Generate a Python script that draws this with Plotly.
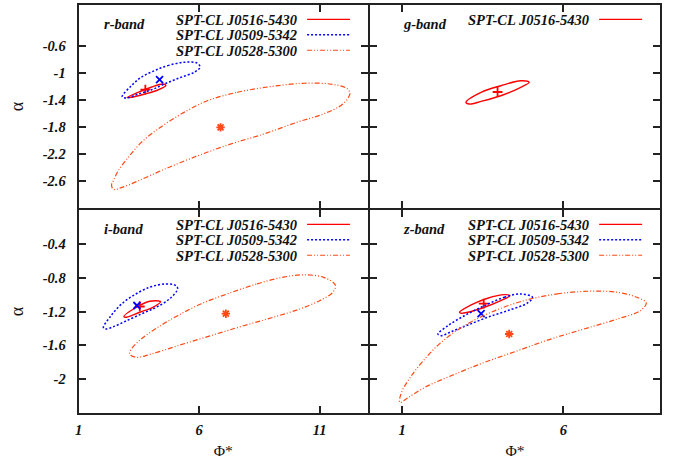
import plotly.graph_objects as go

# ---------------- data ----------------
clusters = ["SPT-CL J0516-5430", "SPT-CL J0509-5342", "SPT-CL J0528-5300"]
bands = ["r-band", "g-band", "i-band", "z-band"]

# r-band contours (Phi*, alpha)
r_J0516_phi = [4.01, 4.49, 4.62, 4.29, 3.74, 3.19, 3.01, 3.47]
r_J0516_alpha = [-1.216, -1.167, -1.190, -1.256, -1.316, -1.364, -1.367, -1.290]
r_J0516_best = [3.77, -1.252]

r_J0509_phi = [4.15, 4.70, 5.39, 5.93, 6.04, 5.80, 5.25, 4.63, 4.01, 3.47, 2.99, 2.81, 3.19, 3.60]
r_J0509_alpha = [-0.970, -0.896, -0.846, -0.861, -0.920, -0.994, -1.068, -1.157, -1.256, -1.316, -1.375, -1.356, -1.193, -1.068]
r_J0509_best = [4.36, -1.104]

r_J0528_phi = [6.34, 7.58, 8.94, 10.32, 11.41, 12.10, 12.26, 11.96, 11.14, 10.04, 8.67, 7.30, 5.93,
               4.56, 3.47, 2.78, 2.44, 2.37, 2.44, 2.64, 3.06, 3.60, 4.29, 5.25]
r_J0528_alpha = [-1.415, -1.290, -1.207, -1.157, -1.167, -1.227, -1.305, -1.464, -1.612, -1.735, -1.908, -2.056, -2.230,
                 -2.427, -2.600, -2.698, -2.723, -2.649, -2.600, -2.452, -2.253, -2.031, -1.834, -1.612]
r_J0528_best = [6.89, -1.809]

# g-band contour
g_J0516_phi = [4.06, 4.68, 4.94, 4.68, 4.06, 3.45, 3.09, 2.98, 3.45]
g_J0516_alpha = [-1.193, -1.119, -1.142, -1.216, -1.341, -1.424, -1.464, -1.439, -1.290]
g_J0516_best = [3.96, -1.286]

# i-band contours
i_J0516_phi = [3.95, 4.40, 4.08, 3.54, 2.99, 2.88, 3.40]
i_J0516_alpha = [-1.079, -1.084, -1.150, -1.209, -1.268, -1.261, -1.150]
i_J0516_best = [3.54, -1.141]

i_J0509_phi = [3.95, 4.63, 5.04, 5.11, 4.77, 4.22, 3.67, 2.99, 2.44, 2.10, 2.03, 2.30, 2.71, 3.26]
i_J0509_alpha = [-0.913, -0.874, -0.894, -0.933, -1.052, -1.150, -1.221, -1.309, -1.380, -1.407, -1.387, -1.268, -1.131, -1.013]
i_J0509_best = [3.42, -1.129]

i_J0528_phi = [7.17, 8.40, 9.50, 10.32, 11.14, 11.65, 11.55, 11.00, 10.18, 9.08, 7.85, 6.48, 5.11,
               4.01, 3.40, 3.12, 3.19, 3.60, 4.29, 5.11, 6.07]
i_J0528_alpha = [-0.992, -0.874, -0.794, -0.767, -0.794, -0.886, -0.972, -1.072, -1.170, -1.268, -1.368, -1.486, -1.605,
                 -1.703, -1.742, -1.703, -1.644, -1.526, -1.387, -1.250, -1.111]
i_J0528_best = [7.11, -1.226]

# z-band contours
z_J0516_phi = [3.65, 4.17, 4.34, 4.06, 3.55, 3.04, 2.83, 2.78, 3.14]
z_J0516_alpha = [-1.043, -1.001, -1.013, -1.072, -1.150, -1.209, -1.221, -1.209, -1.123]
z_J0516_best = [3.53, -1.107]

z_J0509_phi = [3.55, 4.17, 4.68, 5.04, 4.89, 4.27, 3.65, 3.04, 2.52, 2.21, 2.11, 2.42, 2.93]
z_J0509_alpha = [-1.131, -1.032, -0.992, -1.032, -1.099, -1.190, -1.268, -1.360, -1.439, -1.486, -1.466, -1.368, -1.250]
z_J0509_best = [3.45, -1.226]

z_J0528_phi = [4.78, 5.81, 6.84, 7.67, 8.28, 8.57, 8.39, 7.67, 6.64, 5.61, 4.58, 3.55, 2.52, 1.70,
               1.19, 0.93, 0.98, 1.29, 1.70, 2.21, 2.93, 3.76]
z_J0528_alpha = [-1.072, -0.992, -0.960, -0.972, -1.032, -1.099, -1.190, -1.289, -1.407, -1.526, -1.664, -1.802, -1.960, -2.098,
                 -2.217, -2.276, -2.157, -1.960, -1.763, -1.565, -1.368, -1.209]
z_J0528_best = [4.32, -1.466]

# axis ticks
x_ticks_left = [1, 6, 11]
x_ticks_right = [1, 6]
y_ticks_top = [-0.6, -1.0, -1.4, -1.8, -2.2, -2.6]
y_ticks_bottom = [-0.4, -0.8, -1.2, -1.6, -2.0]
y_ticklabels_top = ["-0.6", "-1", "-1.4", "-1.8", "-2.2", "-2.6"]
y_ticklabels_bottom = ["-0.4", "-0.8", "-1.2", "-1.6", "-2"]

# ---------------- styles ----------------
RED = "#ff0000"
BLUE = "#0000ff"
ORANGE = "#ff4a14"
FONT = "Liberation Serif"
TXT = "#111111"

styles = [
    dict(color=RED, width=1.4, dash="solid", symbol="cross-thin", msize=7),
    dict(color=BLUE, width=1.5, dash="2px,2px", symbol="x-thin", msize=7),
    dict(color=ORANGE, width=1.2, dash="5px,2px,1px,2px,1px,2px", symbol="asterisk", msize=7),
]

fig = go.Figure()


def close(a):
    return list(a) + [a[0]]


def add_contour(phi, alpha, best, k, xa, ya):
    s = styles[k]
    fig.add_trace(go.Scatter(
        x=close(phi), y=close(alpha), mode="lines", xaxis=xa, yaxis=ya,
        line=dict(color=s["color"], width=s["width"], dash=s["dash"], shape="spline", smoothing=1.0),
        showlegend=False, hoverinfo="skip"))
    fig.add_trace(go.Scatter(
        x=[best[0]], y=[best[1]], mode="markers", xaxis=xa, yaxis=ya,
        marker=dict(symbol=s["symbol"], size=s["msize"], color=s["color"],
                    line=dict(color=s["color"], width=1.8)),
        showlegend=False, hoverinfo="skip"))


add_contour(r_J0516_phi, r_J0516_alpha, r_J0516_best, 0, "x", "y")
add_contour(r_J0509_phi, r_J0509_alpha, r_J0509_best, 1, "x", "y")
add_contour(r_J0528_phi, r_J0528_alpha, r_J0528_best, 2, "x", "y")
add_contour(g_J0516_phi, g_J0516_alpha, g_J0516_best, 0, "x2", "y2")
add_contour(i_J0516_phi, i_J0516_alpha, i_J0516_best, 0, "x3", "y3")
add_contour(i_J0509_phi, i_J0509_alpha, i_J0509_best, 1, "x3", "y3")
add_contour(i_J0528_phi, i_J0528_alpha, i_J0528_best, 2, "x3", "y3")
add_contour(z_J0516_phi, z_J0516_alpha, z_J0516_best, 0, "x4", "y4")
add_contour(z_J0509_phi, z_J0509_alpha, z_J0509_best, 1, "x4", "y4")
add_contour(z_J0528_phi, z_J0528_alpha, z_J0528_best, 2, "x4", "y4")

W, H = 680, 459
xl = [75 / W, 366 / W]
xr = [368 / W, 660 / W]
yt = [1 - 208 / H, 1 - 5 / H]
yb = [1 - 413 / H, 1 - 210 / H]

tickfont = dict(family=FONT, size=14.5, color=TXT, weight="bold", style="italic")


def xaxis(domain, anchor, rng, ticks, labels, title):
    d = dict(domain=domain, anchor=anchor, range=rng, tickvals=ticks,
             ticktext=[str(t) for t in ticks], showticklabels=labels,
             ticks="inside", ticklen=7, tickwidth=1.5, tickcolor="#222",
             showline=True, linewidth=2, linecolor="#222", mirror="allticks",
             showgrid=False, zeroline=False, tickfont=tickfont, ticklabelstandoff=3)
    if title:
        d["title"] = dict(text="Φ*", font=dict(family=FONT, size=15.5, color=TXT), standoff=8)
    return d


def yaxis(domain, anchor, rng, ticks, ticktext, labels, title):
    d = dict(domain=domain, anchor=anchor, range=rng, tickvals=ticks, ticktext=ticktext,
             showticklabels=labels,
             ticks="inside", ticklen=7, tickwidth=1.5, tickcolor="#222",
             showline=True, linewidth=2, linecolor="#222", mirror="allticks",
             showgrid=False, zeroline=False, tickfont=tickfont, ticklabelstandoff=8)
    if title:
        d["title"] = dict(text="α", font=dict(family=FONT, size=18, color=TXT), standoff=14)
    return d


fig.update_layout(
    width=W, height=H, margin=dict(l=0, r=0, t=0, b=0),
    paper_bgcolor="white", plot_bgcolor="white", showlegend=False,
    xaxis=xaxis(xl, "y", [1, 13], x_ticks_left, False, False),
    yaxis=yaxis(yt, "x", [-3, 0], y_ticks_top, y_ticklabels_top, True, True),
    xaxis2=xaxis(xr, "y2", [0, 9], x_ticks_right, False, False),
    yaxis2=yaxis(yt, "x2", [-3, 0], y_ticks_top, y_ticklabels_top, False, False),
    xaxis3=xaxis(xl, "y3", [1, 13], x_ticks_left, True, True),
    yaxis3=yaxis(yb, "x3", [-2.4, 0], y_ticks_bottom, y_ticklabels_bottom, True, True),
    xaxis4=xaxis(xr, "y4", [0, 9], x_ticks_right, True, True),
    yaxis4=yaxis(yb, "x4", [-2.4, 0], y_ticks_bottom, y_ticklabels_bottom, False, False),
)

# ---------------- in-panel keys (gnuplot style) ----------------
afont = dict(family=FONT, size=14.5, color=TXT, weight="bold", style="italic")
panels = [("x", "y", bands[0], 0.086, 3), ("x2", "y2", bands[1], 0.112, 1),
          ("x3", "y3", bands[2], 0.086, 3), ("x4", "y4", bands[3], 0.112, 3)]
rows_y = [0.926, 0.850, 0.774]
for xa, ya, band, lx, n in panels:
    fig.add_annotation(x=lx, y=0.908, xref=xa + " domain", yref=ya + " domain", text=band,
                       showarrow=False, xanchor="left", yanchor="middle", font=afont, borderpad=0)
    for k in range(n):
        fig.add_annotation(x=0.757, y=rows_y[k], xref=xa + " domain", yref=ya + " domain",
                           text=clusters[k], showarrow=False, xanchor="right", yanchor="middle",
                           font=afont, borderpad=0)
        s = styles[k]
        fig.add_shape(type="line", xref=xa + " domain", yref=ya + " domain",
                      x0=0.79, x1=0.938, y0=rows_y[k] + 0.003, y1=rows_y[k] + 0.003,
                      line=dict(color=s["color"], width=s["width"], dash=s["dash"]))

fig.write_html("out.html")
